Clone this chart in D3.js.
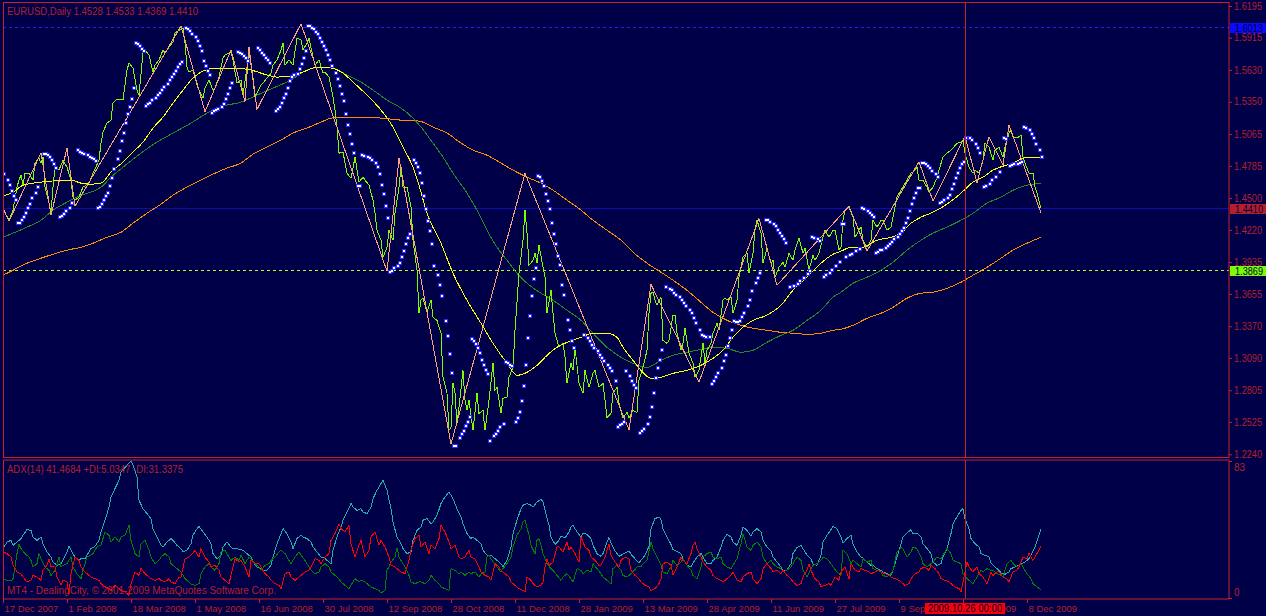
<!DOCTYPE html>
<html><head><meta charset="utf-8">
<script src="https://cdn.jsdelivr.net/npm/d3@7"></script>
<style>
html,body{margin:0;padding:0;background:#000048;}
svg{display:block;}
text{font-family:"Liberation Sans",Arial,sans-serif;}
</style></head><body>
<svg id="c" width="1266" height="616"></svg>
<script>
// ---------- DATA (bar index = trading day since 17 Dec 2007) ----------
const symbolTitle = "EURUSD,Daily  1.4528 1.4533 1.4369 1.4410";
const adxTitle = "ADX(14) 41.4684 +DI:5.0347 -DI:31.3375";
const copyright = "MT4 - DealingCity, \u00A9 2001-2009 MetaQuotes Software Corp.";
const priceTicks = [1.6195,1.5915,1.5630,1.5350,1.5065,1.4785,1.4500,1.4220,1.3935,1.3655,1.3370,1.3090,1.2805,1.2525,1.2240];
const adxTicks = [83,0];
const timeTicks = [[0,"17 Dec 2007"],[32,"1 Feb 2008"],[64,"18 Mar 2008"],[96,"1 May 2008"],[128,"16 Jun 2008"],[160,"30 Jul 2008"],[192,"12 Sep 2008"],[224,"28 Oct 2008"],[256,"11 Dec 2008"],[288,"28 Jan 2009"],[320,"13 Mar 2009"],[352,"28 Apr 2009"],[384,"11 Jun 2009"],[416,"27 Jul 2009"],[448,"9 Sep 2009"],[480,"22 Oct 2009"],[512,"8 Dec 2009"]];
const crossBar = 481, crossLabel = "2009.10.26 00:00";
const levelLines = [[1.6013,"dash","#1e1eff","#0a0aff"],[1.4410,"solid","#0c0cb4","#b4202a"],[1.3869,"dash","#b4ff28","#7cfc00"]];

const closeSeries = [[0,1.4403],[3,1.4305],[5,1.4394],[7,1.4597],[8,1.4659],[9,1.4703],[10,1.4614],[11,1.4720],[13,1.4720],[15,1.4659],[16,1.4809],[18,1.4853],[19,1.4809],[20,1.4862],[21,1.4597],[23,1.4456],[24,1.4367],[25,1.4597],[26,1.4765],[28,1.4747],[29,1.4791],[30,1.4835],[32,1.4773],[34,1.4659],[35,1.4509],[36,1.4482],[38,1.4509],[40,1.4597],[43,1.4632],[45,1.4720],[48,1.4835],[49,1.4985],[50,1.5082],[52,1.5162],[54,1.5188],[55,1.5339],[57,1.5374],[60,1.5365],[62,1.5630],[63,1.5692],[65,1.5648],[67,1.5453],[68,1.5409],[70,1.5780],[71,1.5807],[73,1.5762],[75,1.5612],[76,1.5674],[78,1.5718],[80,1.5807],[81,1.5780],[83,1.5833],[85,1.5877],[86,1.5957],[89,1.5992],[90,1.6001],[91,1.5868],[92,1.5656],[93,1.5612],[95,1.5630],[97,1.5497],[98,1.5453],[100,1.5383],[101,1.5471],[103,1.5542],[105,1.5453],[106,1.5471],[108,1.5568],[110,1.5736],[111,1.5762],[114,1.5789],[115,1.5718],[117,1.5515],[119,1.5542],[120,1.5409],[122,1.5656],[123,1.5807],[125,1.5542],[126,1.5392],[127,1.5427],[129,1.5497],[130,1.5515],[132,1.5559],[134,1.5603],[135,1.5674],[137,1.5718],[139,1.5807],[140,1.5868],[141,1.5674],[143,1.5718],[145,1.5674],[147,1.5912],[149,1.5895],[150,1.5807],[152,1.5868],[153,1.5912],[155,1.5745],[156,1.5674],[158,1.5718],[160,1.5603],[161,1.5612],[163,1.5568],[165,1.5392],[166,1.5277],[167,1.5127],[168,1.4897],[170,1.4906],[172,1.4720],[174,1.4676],[175,1.4765],[176,1.4862],[178,1.4641],[180,1.4685],[181,1.4659],[183,1.4614],[185,1.4482],[186,1.4367],[187,1.4217],[189,1.4129],[190,1.3979],[192,1.4067],[193,1.4217],[195,1.4129],[196,1.4367],[198,1.4597],[199,1.4773],[200,1.4597],[202,1.4597],[204,1.4420],[205,1.4129],[207,1.3864],[208,1.3484],[209,1.3599],[210,1.3617],[212,1.3493],[214,1.3599],[215,1.3449],[217,1.3422],[219,1.3308],[220,1.2919],[222,1.2778],[223,1.2451],[224,1.2478],[225,1.2866],[226,1.2778],[227,1.2513],[228,1.2654],[230,1.2981],[231,1.2716],[232,1.2628],[233,1.2716],[235,1.2451],[237,1.2778],[238,1.2601],[240,1.2628],[241,1.2451],[243,1.2716],[245,1.3043],[246,1.2804],[247,1.2831],[249,1.2601],[250,1.2734],[252,1.2743],[253,1.2919],[255,1.3007],[256,1.3334],[258,1.3837],[260,1.4129],[261,1.4394],[262,1.4191],[263,1.3908],[265,1.3952],[266,1.4014],[267,1.3926],[268,1.4085],[270,1.3890],[271,1.3802],[272,1.3484],[274,1.3687],[275,1.3484],[276,1.3308],[278,1.3184],[280,1.3219],[281,1.3096],[282,1.2866],[284,1.3043],[285,1.2981],[286,1.3184],[288,1.2866],[290,1.2778],[291,1.2981],[293,1.2831],[295,1.2954],[296,1.2981],[298,1.2831],[300,1.2866],[301,1.2716],[302,1.2566],[304,1.2601],[305,1.2778],[307,1.2831],[308,1.2690],[310,1.2557],[312,1.2610],[313,1.2557],[315,1.2628],[317,1.2610],[318,1.2893],[320,1.3007],[322,1.3158],[323,1.3484],[324,1.3661],[325,1.3670],[326,1.3599],[327,1.3555],[329,1.3626],[330,1.3246],[332,1.3219],[333,1.3246],[335,1.3467],[336,1.3467],[337,1.3308],[339,1.3158],[340,1.3219],[341,1.3352],[343,1.3131],[345,1.3043],[346,1.2919],[348,1.2981],[350,1.3219],[351,1.3043],[352,1.3158],[354,1.3219],[355,1.3308],[357,1.3396],[358,1.3334],[360,1.3599],[361,1.3617],[362,1.3599],[364,1.3626],[365,1.3484],[367,1.3599],[368,1.3802],[370,1.3979],[372,1.4014],[373,1.3837],[375,1.4014],[376,1.4217],[377,1.4305],[379,1.4191],[380,1.3926],[382,1.4058],[384,1.3926],[385,1.3952],[386,1.3802],[388,1.3890],[390,1.3935],[391,1.3890],[393,1.4014],[395,1.3952],[396,1.4041],[398,1.4147],[400,1.4014],[401,1.4058],[403,1.3864],[405,1.3996],[406,1.3952],[408,1.4014],[410,1.4155],[411,1.4217],[413,1.4155],[415,1.4217],[416,1.4217],[418,1.4041],[419,1.4067],[420,1.4305],[421,1.4394],[423,1.4420],[425,1.4332],[426,1.4155],[428,1.4217],[429,1.4244],[430,1.4129],[432,1.4067],[434,1.4129],[435,1.4305],[437,1.4244],[439,1.4305],[440,1.4305],[442,1.4217],[444,1.4244],[445,1.4332],[447,1.4509],[449,1.4570],[450,1.4597],[452,1.4659],[454,1.4720],[455,1.4729],[457,1.4773],[458,1.4659],[460,1.4659],[462,1.4597],[463,1.4553],[465,1.4597],[467,1.4685],[468,1.4747],[470,1.4862],[472,1.4897],[474,1.4924],[475,1.4941],[477,1.4985],[479,1.4994],[480,1.5012],[481,1.4897],[483,1.4773],[485,1.4720],[486,1.4747],[488,1.4720],[490,1.4835],[491,1.4985],[493,1.4950],[495,1.4835],[496,1.4924],[498,1.4950],[500,1.4862],[501,1.4950],[503,1.5074],[504,1.5100],[505,1.5038],[507,1.5030],[509,1.5056],[510,1.4862],[511,1.4809],[513,1.4720],[515,1.4720],[516,1.4597],[517,1.4544],[519,1.4410]];

const maYellow = [[0,1.4517],[5,1.4553],[10,1.4614],[15,1.4632],[24,1.4650],[34,1.4659],[39,1.4632],[44,1.4623],[49,1.4632],[54,1.4729],[60,1.4818],[65,1.4906],[70,1.4994],[75,1.5118],[80,1.5215],[85,1.5339],[90,1.5453],[95,1.5559],[100,1.5621],[107,1.5648],[115,1.5648],[124,1.5630],[132,1.5586],[137,1.5568],[144,1.5577],[150,1.5612],[157,1.5656],[164,1.5648],[170,1.5603],[175,1.5524],[182,1.5409],[189,1.5277],[195,1.5127],[200,1.4950],[205,1.4773],[208,1.4614],[212,1.4367],[219,1.4102],[225,1.3837],[232,1.3599],[239,1.3396],[245,1.3219],[252,1.3043],[257,1.2937],[262,1.2963],[267,1.3025],[272,1.3113],[277,1.3184],[282,1.3228],[289,1.3272],[295,1.3308],[302,1.3308],[307,1.3272],[310,1.3184],[315,1.3069],[319,1.2981],[324,1.2910],[329,1.2919],[335,1.2954],[342,1.2981],[349,1.3025],[355,1.3087],[360,1.3158],[365,1.3272],[370,1.3361],[375,1.3422],[382,1.3467],[389,1.3555],[395,1.3687],[402,1.3802],[409,1.3926],[415,1.4005],[419,1.4032],[424,1.4067],[430,1.4067],[437,1.4129],[444,1.4155],[449,1.4191],[454,1.4279],[459,1.4332],[465,1.4376],[472,1.4447],[479,1.4544],[485,1.4641],[490,1.4685],[495,1.4747],[500,1.4782],[505,1.4809],[510,1.4853],[515,1.4862],[519,1.4862]];

const maGreen = [[0,1.4155],[5,1.4191],[12,1.4244],[19,1.4305],[25,1.4394],[32,1.4464],[39,1.4526],[44,1.4553],[49,1.4597],[54,1.4685],[60,1.4773],[69,1.4897],[77,1.4994],[85,1.5074],[94,1.5162],[102,1.5250],[110,1.5312],[119,1.5347],[127,1.5409],[135,1.5471],[144,1.5542],[152,1.5630],[159,1.5656],[165,1.5648],[172,1.5586],[179,1.5524],[185,1.5453],[192,1.5365],[199,1.5294],[205,1.5206],[209,1.5127],[215,1.4985],[220,1.4862],[225,1.4720],[232,1.4544],[237,1.4394],[242,1.4217],[247,1.4067],[252,1.3952],[257,1.3837],[262,1.3749],[269,1.3661],[275,1.3599],[282,1.3511],[289,1.3422],[295,1.3308],[302,1.3184],[309,1.3096],[315,1.3043],[322,1.3007],[329,1.3069],[335,1.3113],[342,1.3140],[349,1.3166],[355,1.3184],[362,1.3175],[369,1.3140],[375,1.3158],[382,1.3228],[389,1.3290],[395,1.3334],[402,1.3422],[409,1.3511],[415,1.3626],[419,1.3670],[425,1.3749],[432,1.3802],[439,1.3864],[445,1.3935],[452,1.4041],[459,1.4129],[465,1.4191],[472,1.4244],[479,1.4305],[485,1.4367],[492,1.4456],[499,1.4509],[505,1.4570],[512,1.4614],[519,1.4632]];

const maOrange = [[0,1.3820],[5,1.3864],[12,1.3926],[19,1.3970],[25,1.4005],[32,1.4041],[39,1.4067],[45,1.4102],[52,1.4155],[59,1.4199],[65,1.4279],[72,1.4367],[79,1.4447],[85,1.4526],[92,1.4597],[99,1.4659],[105,1.4712],[112,1.4765],[119,1.4809],[125,1.4888],[132,1.4950],[139,1.5012],[145,1.5074],[152,1.5118],[159,1.5171],[164,1.5206],[169,1.5215],[179,1.5215],[189,1.5206],[199,1.5188],[208,1.5180],[215,1.5127],[222,1.5074],[229,1.4985],[235,1.4924],[242,1.4879],[249,1.4809],[255,1.4747],[262,1.4685],[269,1.4632],[275,1.4570],[282,1.4482],[289,1.4394],[295,1.4305],[302,1.4217],[309,1.4129],[315,1.4023],[322,1.3926],[329,1.3846],[335,1.3776],[342,1.3687],[349,1.3581],[355,1.3493],[362,1.3422],[369,1.3378],[375,1.3352],[382,1.3334],[389,1.3316],[395,1.3308],[402,1.3299],[409,1.3308],[415,1.3334],[419,1.3343],[425,1.3378],[432,1.3440],[439,1.3484],[445,1.3537],[452,1.3617],[459,1.3661],[465,1.3670],[472,1.3705],[479,1.3758],[485,1.3820],[492,1.3890],[499,1.3970],[505,1.4041],[512,1.4102],[519,1.4155]];

const zigzag = [[0,1.4411],[3,1.4297],[19,1.4900],[24,1.4350],[32,1.4941],[36,1.4429],[89,1.6019],[101,1.5262],[114,1.5807],[121,1.5350],[123,1.5830],[127,1.5283],[149,1.6038],[192,1.3855],[198,1.4850],[224,1.2330],[261,1.4719],[313,1.2456],[324,1.3738],[348,1.2878],[378,1.4320],[387,1.3731],[423,1.4429],[432,1.4035],[458,1.4821],[465,1.4473],[481,1.5047],[487,1.4635],[493,1.5041],[500,1.4791],[503,1.5144],[519,1.4369]];

const psar = [[0,1.4718],[2,1.4668],[3,1.4624],[4,1.4576],[5,1.4532],[6,1.4488],[7,1.4291],[8,1.4291],[9,1.4312],[10,1.4341],[11,1.4379],[12,1.4418],[13,1.4459],[14,1.4506],[16,1.4556],[17,1.4606],[20,1.4900],[21,1.4894],[22,1.4885],[23,1.4871],[24,1.4847],[25,1.4812],[26,1.4777],[28,1.4341],[29,1.4350],[30,1.4370],[31,1.4394],[33,1.4423],[34,1.4468],[37,1.4932],[38,1.4918],[39,1.4906],[40,1.4894],[42,1.4885],[43,1.4874],[44,1.4865],[45,1.4850],[46,1.4835],[47,1.4423],[48,1.4429],[49,1.4453],[50,1.4488],[51,1.4526],[52,1.4556],[53,1.4615],[54,1.4688],[55,1.4762],[57,1.4850],[58,1.4924],[59,1.5012],[60,1.5086],[61,1.5174],[62,1.5247],[63,1.5312],[64,1.5380],[65,1.5477],[66,1.5880],[67,1.5871],[68,1.5851],[69,1.5827],[70,1.5807],[71,1.5321],[72,1.5336],[73,1.5350],[74,1.5371],[76,1.5395],[77,1.5415],[78,1.5439],[79,1.5459],[80,1.5489],[82,1.5518],[83,1.5548],[84,1.5577],[85,1.5601],[86,1.5630],[87,1.5665],[88,1.5689],[89,1.5712],[91,1.6007],[92,1.5998],[93,1.5983],[94,1.5960],[96,1.5930],[97,1.5895],[98,1.5851],[99,1.5807],[100,1.5718],[101,1.5674],[102,1.5630],[103,1.5595],[104,1.5262],[105,1.5277],[106,1.5283],[107,1.5292],[109,1.5312],[110,1.5342],[111,1.5380],[112,1.5424],[113,1.5477],[114,1.5527],[117,1.5801],[118,1.5792],[119,1.5777],[120,1.5762],[121,1.5742],[122,1.5718],[127,1.5830],[128,1.5812],[129,1.5792],[130,1.5771],[131,1.5748],[132,1.5724],[133,1.5704],[136,1.5277],[137,1.5292],[138,1.5312],[139,1.5350],[140,1.5389],[141,1.5424],[142,1.5477],[143,1.5542],[144,1.5577],[145,1.5595],[147,1.5606],[148,1.5645],[149,1.5695],[150,1.5748],[151,1.5807],[152,1.6027],[153,1.6024],[154,1.6013],[155,1.5998],[156,1.5977],[157,1.5954],[158,1.5924],[159,1.5889],[160,1.5851],[161,1.5812],[162,1.5771],[163,1.5724],[164,1.5674],[166,1.5615],[167,1.5556],[168,1.5498],[169,1.5430],[170,1.5365],[171,1.5247],[172,1.5153],[173,1.5071],[174,1.4983],[175,1.4909],[177,1.4615],[178,1.4615],[179,1.4888],[180,1.4880],[182,1.4871],[183,1.4859],[184,1.4841],[186,1.4821],[187,1.4782],[188,1.4718],[189,1.4629],[190,1.4541],[191,1.4438],[192,1.4335],[193,1.3858],[194,1.3870],[195,1.3888],[197,1.3908],[198,1.3938],[199,1.3988],[200,1.4041],[201,1.4100],[202,1.4153],[203,1.4188],[205,1.4841],[206,1.4821],[207,1.4782],[208,1.4732],[209,1.4644],[210,1.4526],[211,1.4409],[212,1.4306],[213,1.4217],[214,1.4100],[215,1.3908],[217,1.3829],[218,1.3746],[219,1.3643],[221,1.3423],[222,1.3290],[223,1.3134],[224,1.2967],[225,1.2319],[226,1.2319],[228,1.2393],[229,1.2428],[230,1.2457],[231,1.2496],[232,1.2534],[233,1.2575],[234,1.3270],[235,1.3252],[236,1.3223],[237,1.3187],[238,1.3143],[239,1.3084],[240,1.3040],[241,1.2996],[242,1.2958],[243,1.2369],[245,1.2407],[246,1.2428],[247,1.2457],[248,1.2487],[250,1.2516],[251,1.3064],[252,1.3052],[253,1.3040],[254,1.3025],[256,1.2534],[257,1.2569],[258,1.2622],[259,1.2716],[260,1.2849],[261,1.3040],[262,1.3276],[263,1.3467],[264,1.3643],[265,1.3799],[266,1.3894],[267,1.4703],[268,1.4694],[269,1.4659],[270,1.4615],[271,1.4541],[272,1.4482],[273,1.4409],[274,1.4291],[275,1.4188],[276,1.4100],[277,1.3997],[278,1.3923],[279,1.3746],[280,1.3658],[282,1.3437],[283,1.3349],[284,1.3246],[285,1.3187],[290,1.3305],[292,1.3276],[293,1.3246],[294,1.3217],[295,1.3187],[297,1.3158],[298,1.3123],[299,1.3099],[300,1.3070],[302,1.3040],[303,1.3011],[304,1.2981],[306,1.2893],[307,1.2487],[308,1.2504],[309,1.2516],[310,1.2534],[311,1.2981],[313,1.2937],[314,1.2899],[315,1.2864],[316,1.2834],[318,1.2437],[319,1.2452],[320,1.2475],[322,1.2516],[323,1.2575],[324,1.2663],[325,1.2790],[326,1.2922],[327,1.3011],[328,1.3084],[329,1.3173],[331,1.3723],[333,1.3711],[334,1.3694],[335,1.3673],[336,1.3652],[338,1.3635],[339,1.3614],[340,1.3585],[341,1.3555],[343,1.3526],[344,1.3496],[345,1.3452],[346,1.3408],[348,1.3349],[349,1.3305],[350,1.3290],[351,1.3281],[353,1.3281],[354,1.2869],[355,1.2893],[356,1.2928],[357,1.2966],[359,1.3011],[360,1.3070],[361,1.3128],[362,1.3202],[363,1.3276],[364,1.3349],[365,1.3423],[366,1.3417],[367,1.3417],[368,1.3423],[369,1.3458],[370,1.3496],[372,1.3555],[373,1.3614],[374,1.3688],[376,1.3761],[377,1.3805],[378,1.3849],[381,1.4320],[382,1.4312],[383,1.4300],[385,1.4282],[386,1.4261],[387,1.4232],[388,1.4203],[389,1.4173],[390,1.4144],[391,1.4114],[393,1.3723],[395,1.3732],[397,1.3752],[398,1.3776],[400,1.3805],[402,1.3841],[403,1.3870],[404,1.4164],[405,1.4158],[407,1.4144],[408,1.4135],[410,1.3811],[411,1.3829],[413,1.3850],[414,1.3879],[416,1.3908],[418,1.3944],[419,1.4282],[420,1.4282],[421,1.3988],[423,1.4005],[424,1.4020],[426,1.4041],[428,1.4064],[429,1.4418],[430,1.4409],[432,1.4394],[433,1.4379],[434,1.4364],[435,1.4341],[436,1.4026],[437,1.4035],[438,1.4047],[439,1.4055],[441,1.4070],[442,1.4085],[443,1.4106],[444,1.4123],[445,1.4144],[447,1.4164],[448,1.4188],[449,1.4217],[450,1.4247],[451,1.4291],[452,1.4335],[453,1.4394],[454,1.4453],[455,1.4512],[456,1.4556],[457,1.4594],[458,1.4600],[459,1.4821],[460,1.4815],[461,1.4806],[462,1.4791],[463,1.4777],[464,1.4747],[466,1.4718],[467,1.4694],[468,1.4468],[469,1.4476],[470,1.4488],[472,1.4506],[473,1.4535],[474,1.4585],[475,1.4635],[476,1.4682],[477,1.4732],[478,1.4777],[479,1.4812],[480,1.4830],[481,1.5041],[483,1.5041],[484,1.5018],[486,1.4988],[487,1.4953],[488,1.4909],[490,1.4606],[491,1.4615],[493,1.4635],[494,1.4665],[496,1.4694],[498,1.4741],[500,1.5041],[501,1.5027],[503,1.4791],[504,1.4797],[505,1.4806],[507,1.4812],[508,1.4821],[509,1.4830],[510,1.5136],[511,1.5124],[513,1.5106],[514,1.5077],[515,1.5035],[516,1.4988],[518,1.4930],[519,1.4871]];

const adx = [[0,29.9],[2,33.9],[4,34.9],[5,31.9],[7,33.9],[9,36.0],[10,38.0],[12,41.4],[14,41.0],[15,37.0],[17,34.9],[19,37.0],[20,32.9],[22,27.9],[24,24.8],[25,21.8],[27,19.8],[29,20.8],[30,22.8],[32,27.9],[33,31.3],[34,28.9],[36,24.8],[38,22.8],[39,23.8],[41,23.8],[43,27.9],[44,29.9],[46,31.3],[48,34.9],[49,40.0],[51,47.1],[53,55.1],[54,61.2],[56,66.3],[58,71.3],[59,76.4],[62,80.4],[64,83.0],[65,80.4],[67,73.3],[68,59.2],[70,54.1],[72,51.1],[74,48.1],[75,42.0],[77,37.0],[79,31.9],[80,30.9],[82,33.9],[84,36.0],[85,34.9],[87,31.9],[89,29.9],[90,27.9],[92,28.9],[94,32.9],[95,38.0],[97,42.0],[98,43.4],[100,40.0],[102,37.0],[104,32.9],[105,26.9],[107,23.8],[109,25.9],[110,30.9],[112,33.9],[114,30.9],[115,29.9],[117,29.9],[119,29.3],[120,28.9],[122,26.9],[124,24.8],[125,21.8],[127,18.8],[129,17.8],[130,16.2],[132,16.8],[134,19.8],[135,24.8],[137,32.9],[139,39.0],[140,42.0],[142,39.0],[144,33.9],[145,29.9],[147,36.0],[149,38.0],[150,37.0],[152,36.0],[154,33.9],[155,30.9],[157,27.9],[159,24.8],[160,24.8],[162,22.8],[164,20.8],[165,28.9],[167,37.0],[169,43.0],[170,47.1],[172,52.1],[174,57.2],[175,55.1],[177,53.1],[179,54.1],[180,52.1],[182,51.1],[184,55.1],[185,60.2],[187,65.2],[189,69.3],[190,71.3],[192,65.2],[194,54.1],[195,46.1],[197,37.0],[199,32.9],[200,29.9],[202,26.9],[204,27.9],[205,34.9],[207,41.0],[209,43.0],[210,47.1],[212,48.1],[214,45.0],[215,46.1],[217,50.1],[219,57.2],[221,61.2],[223,64.2],[225,60.2],[227,54.1],[229,49.1],[230,45.0],[232,39.0],[234,36.0],[235,37.0],[237,34.9],[239,32.9],[240,28.9],[242,25.9],[244,25.9],[245,24.8],[247,22.8],[249,20.8],[250,18.8],[252,22.8],[254,30.9],[255,39.0],[257,47.1],[259,54.1],[260,56.2],[262,57.2],[264,56.2],[265,55.1],[267,58.2],[269,59.8],[270,58.2],[271,53.1],[273,44.0],[274,37.0],[276,32.5],[278,34.9],[279,37.4],[281,36.4],[283,40.0],[284,43.0],[285,44.0],[287,40.0],[289,37.0],[290,39.4],[292,38.6],[294,36.0],[295,31.9],[297,26.9],[299,25.3],[300,26.9],[302,33.9],[303,36.6],[304,33.3],[306,28.5],[308,25.3],[309,25.9],[311,27.3],[313,28.5],[314,26.5],[316,23.8],[318,21.2],[319,22.8],[321,25.9],[323,31.3],[324,42.0],[326,48.1],[328,49.1],[329,47.5],[330,42.0],[332,37.0],[334,32.5],[335,29.3],[337,28.3],[339,26.9],[340,23.8],[342,19.8],[344,18.8],[345,21.2],[347,24.8],[349,26.9],[350,24.8],[352,20.8],[354,20.8],[355,22.8],[357,24.8],[359,30.9],[360,34.9],[362,38.6],[364,37.0],[365,33.9],[367,31.9],[369,38.0],[370,43.0],[372,41.0],[374,37.4],[375,40.0],[377,42.0],[379,40.0],[380,34.9],[382,30.9],[384,28.5],[385,24.8],[387,21.8],[389,18.8],[390,16.4],[392,16.8],[394,20.8],[395,26.9],[397,30.5],[399,31.9],[400,29.9],[402,25.9],[404,23.8],[405,20.4],[407,19.8],[409,25.9],[410,33.9],[412,38.0],[414,41.4],[415,43.4],[417,42.0],[419,37.0],[420,33.3],[422,36.0],[424,38.0],[425,32.5],[427,27.9],[429,24.8],[430,24.2],[432,21.8],[434,19.8],[435,19.8],[437,17.8],[439,16.8],[440,15.8],[442,14.7],[444,13.7],[445,16.8],[447,24.8],[449,32.9],[450,37.0],[452,39.4],[454,41.4],[455,39.0],[457,39.4],[459,37.0],[460,32.9],[462,29.9],[464,26.9],[465,21.8],[467,19.8],[469,20.8],[470,24.8],[472,29.9],[474,39.0],[475,45.0],[477,49.1],[479,53.1],[480,54.1],[481,48.1],[483,42.0],[484,36.0],[486,32.9],[488,30.9],[489,26.9],[491,25.9],[493,24.8],[494,21.2],[496,18.8],[498,16.8],[499,15.2],[501,14.3],[503,15.8],[504,17.8],[506,18.8],[508,19.8],[509,20.4],[511,21.8],[513,23.8],[514,25.9],[516,30.9],[519,41.5]];

const plusDI = [[0,11.7],[2,10.7],[4,10.3],[5,11.7],[6,18.8],[7,26.9],[8,32.5],[9,29.9],[11,26.9],[13,24.8],[14,22.8],[15,18.8],[17,20.8],[18,26.9],[19,23.8],[21,18.8],[23,16.8],[24,13.7],[26,16.8],[28,24.8],[29,18.8],[30,19.8],[32,20.8],[34,24.8],[35,18.8],[37,14.7],[39,11.7],[40,16.8],[42,24.8],[44,25.9],[45,26.9],[47,30.9],[49,31.9],[50,36.0],[51,40.0],[53,38.0],[54,33.9],[56,37.0],[58,33.9],[59,37.0],[61,38.0],[63,44.0],[64,34.9],[66,26.9],[68,24.8],[69,32.9],[71,34.9],[73,28.9],[74,24.8],[76,20.8],[78,22.8],[79,24.8],[81,26.9],[83,24.8],[84,20.8],[86,18.8],[88,16.8],[89,15.8],[91,11.7],[93,9.7],[94,8.3],[96,7.7],[98,8.7],[99,14.7],[101,18.8],[103,20.8],[104,18.8],[106,16.8],[108,20.8],[109,27.9],[111,28.9],[113,24.8],[114,22.8],[116,24.8],[118,22.8],[119,25.9],[121,20.8],[123,24.8],[124,23.8],[126,20.8],[128,18.8],[129,16.8],[131,19.8],[133,20.8],[134,22.8],[136,24.8],[138,27.9],[139,28.9],[141,26.9],[143,22.8],[144,20.8],[146,24.8],[148,27.9],[149,25.9],[151,22.8],[153,18.8],[154,16.8],[156,14.7],[158,15.8],[159,18.8],[161,20.8],[163,18.8],[164,15.8],[166,13.7],[168,11.7],[169,9.7],[171,7.7],[173,5.7],[174,7.7],[176,11.7],[178,9.7],[179,10.7],[181,9.7],[183,7.7],[184,6.7],[186,5.7],[188,4.6],[189,3.0],[191,4.6],[192,16.8],[193,18.8],[194,21.8],[196,24.8],[197,30.5],[198,24.8],[199,22.8],[201,18.8],[203,13.7],[204,9.7],[206,8.7],[208,9.7],[209,9.7],[211,8.7],[213,10.7],[214,13.7],[216,10.7],[218,8.7],[219,6.7],[221,5.7],[223,4.6],[224,17.8],[226,16.8],[228,14.7],[229,15.8],[231,13.7],[233,15.8],[234,14.7],[236,15.8],[238,12.7],[239,14.7],[241,15.8],[242,24.8],[243,25.9],[245,21.8],[247,18.8],[249,15.8],[250,17.8],[252,20.8],[254,24.8],[255,30.9],[257,38.0],[259,42.0],[260,46.1],[261,47.1],[263,38.0],[264,31.9],[266,26.9],[267,34.9],[268,36.0],[269,31.9],[270,26.9],[272,20.8],[274,17.8],[275,16.8],[277,13.7],[279,10.7],[280,12.7],[282,14.7],[284,11.7],[285,9.7],[287,17.8],[289,16.8],[290,14.7],[292,16.8],[294,15.8],[295,20.8],[297,17.8],[299,14.7],[300,12.7],[302,10.7],[304,8.7],[305,17.8],[307,19.8],[309,16.8],[310,13.7],[312,12.7],[314,14.7],[315,15.8],[317,18.8],[319,18.8],[320,20.8],[322,22.8],[324,33.9],[325,29.9],[327,24.8],[329,19.8],[330,15.8],[332,14.7],[334,18.8],[335,22.8],[337,19.8],[339,21.8],[340,23.8],[342,19.8],[344,16.8],[345,13.7],[347,11.7],[349,18.8],[350,24.8],[352,26.9],[354,27.9],[355,24.8],[357,23.8],[359,24.8],[360,20.8],[362,18.8],[364,17.8],[365,19.8],[367,23.8],[369,32.9],[370,39.0],[372,30.9],[374,28.9],[375,31.9],[377,33.9],[379,30.9],[380,24.8],[382,20.8],[384,22.8],[385,20.8],[387,18.8],[389,17.8],[390,15.8],[392,16.8],[394,18.8],[395,20.8],[397,24.8],[399,22.8],[400,16.8],[402,12.7],[404,17.8],[405,19.8],[407,20.8],[409,22.8],[410,24.8],[412,23.8],[414,20.8],[415,18.8],[417,15.8],[419,13.7],[420,28.9],[422,26.9],[424,20.8],[425,22.8],[427,20.8],[429,18.8],[430,23.8],[432,21.8],[434,22.8],[435,17.8],[437,16.8],[439,15.8],[440,13.7],[442,12.7],[444,14.7],[445,16.8],[447,27.9],[449,30.5],[450,29.9],[452,24.8],[454,27.9],[455,30.9],[457,29.9],[459,24.8],[460,20.8],[462,18.8],[464,20.8],[465,21.8],[467,24.8],[469,23.8],[470,25.9],[472,29.9],[474,26.9],[475,22.8],[477,21.8],[479,20.8],[480,14.7],[482,11.7],[484,9.7],[485,8.7],[487,12.7],[489,16.8],[490,15.8],[492,17.8],[494,16.8],[495,16.8],[497,14.7],[499,13.7],[500,12.7],[502,20.8],[504,22.8],[505,20.8],[507,18.8],[509,20.8],[510,18.8],[512,14.7],[514,11.7],[515,8.7],[517,6.7],[519,5.0]];

const minusDI = [[0,27.9],[2,26.9],[4,24.8],[5,19.8],[7,15.8],[9,14.7],[10,12.7],[12,9.7],[14,10.7],[15,13.7],[17,12.7],[19,10.7],[20,16.8],[22,19.8],[23,23.8],[24,18.8],[26,18.8],[27,12.7],[29,7.7],[30,10.7],[32,9.7],[33,2.6],[34,14.7],[36,24.8],[38,22.8],[39,18.8],[41,15.8],[43,13.7],[44,12.7],[46,11.7],[48,10.7],[49,8.7],[51,6.7],[53,5.7],[54,4.6],[56,7.7],[58,5.7],[59,4.6],[61,3.6],[63,1.6],[64,8.7],[66,15.8],[68,13.7],[69,17.8],[71,14.7],[73,12.7],[74,11.7],[76,10.7],[78,11.7],[79,10.7],[81,9.7],[83,11.7],[84,9.7],[86,8.7],[88,12.7],[89,12.7],[91,23.8],[93,24.8],[94,25.9],[96,28.9],[98,24.8],[99,29.9],[101,24.8],[103,21.8],[104,18.8],[106,19.8],[108,16.8],[109,12.7],[111,10.7],[113,8.7],[114,13.7],[116,23.8],[118,21.8],[119,22.8],[121,18.8],[123,12.7],[124,22.8],[126,20.8],[128,20.8],[129,18.8],[131,14.7],[133,12.7],[134,10.7],[136,8.7],[138,7.7],[139,5.7],[141,14.7],[143,15.8],[144,12.7],[146,10.7],[148,12.7],[149,13.7],[151,15.8],[153,16.8],[154,18.8],[156,23.8],[158,22.8],[159,20.8],[161,24.8],[163,26.9],[164,34.9],[166,39.0],[168,45.0],[169,42.0],[171,40.0],[173,44.0],[174,32.9],[176,24.8],[178,31.9],[179,34.9],[181,24.8],[183,28.9],[184,37.0],[186,40.0],[188,31.9],[189,34.9],[191,30.9],[193,24.8],[194,19.8],[196,18.8],[198,16.8],[199,15.8],[201,14.7],[203,22.8],[204,28.9],[206,36.0],[208,38.0],[209,30.9],[211,33.9],[213,26.9],[214,31.9],[216,29.9],[218,36.0],[219,44.0],[221,40.0],[223,33.9],[224,29.9],[226,31.9],[228,24.8],[229,23.8],[231,24.8],[233,28.9],[234,24.8],[236,23.8],[238,18.8],[239,15.8],[241,13.7],[243,12.7],[244,10.7],[246,20.8],[248,18.8],[249,16.8],[251,14.7],[253,12.7],[254,9.7],[256,7.7],[258,5.7],[260,4.6],[261,3.6],[262,12.7],[264,10.7],[265,8.7],[267,6.7],[269,7.7],[270,9.7],[271,18.8],[272,23.8],[273,19.8],[275,21.8],[277,30.9],[278,30.9],[280,27.9],[282,33.9],[283,28.9],[284,30.9],[286,26.9],[288,21.8],[289,37.0],[291,30.9],[293,28.9],[294,24.8],[296,22.8],[298,19.8],[299,19.8],[301,24.8],[303,32.9],[304,25.9],[306,21.8],[308,18.8],[309,22.8],[311,24.8],[313,23.8],[314,16.8],[316,13.7],[318,11.7],[319,9.7],[321,7.7],[323,6.7],[324,4.6],[326,5.7],[328,8.7],[329,11.7],[330,20.8],[332,21.8],[334,19.8],[335,13.7],[337,18.8],[339,24.8],[340,22.8],[342,20.8],[344,26.9],[345,31.9],[346,33.9],[347,29.9],[349,24.8],[350,21.8],[352,18.8],[354,16.8],[355,13.7],[357,11.7],[359,10.7],[360,9.7],[362,11.7],[364,13.7],[365,15.8],[367,10.7],[369,9.7],[370,12.7],[372,14.7],[374,15.8],[375,11.7],[377,8.7],[379,11.7],[380,17.8],[382,20.8],[384,17.8],[385,15.8],[387,16.8],[389,14.7],[390,16.8],[392,13.7],[394,11.7],[395,9.7],[397,7.7],[399,8.7],[400,12.7],[402,16.8],[403,20.8],[404,16.8],[406,11.7],[408,9.7],[409,6.7],[411,7.7],[413,8.7],[414,7.7],[416,12.7],[418,10.7],[419,15.8],[421,18.8],[423,11.7],[424,20.8],[426,16.8],[428,15.8],[429,17.8],[431,16.8],[433,15.8],[434,14.7],[436,15.8],[438,16.8],[439,15.8],[441,14.7],[443,13.7],[444,12.7],[446,11.7],[448,10.7],[449,9.7],[451,7.7],[453,8.7],[454,11.7],[456,14.7],[458,15.8],[459,17.8],[461,18.8],[463,16.8],[464,19.8],[466,17.8],[468,14.7],[469,11.7],[471,10.7],[473,9.7],[474,8.7],[476,6.7],[478,5.7],[479,3.6],[480,9.7],[482,21.8],[483,18.8],[485,15.8],[487,18.8],[488,14.7],[490,12.7],[492,8.7],[494,15.8],[495,13.7],[497,15.8],[498,15.8],[500,12.7],[502,11.7],[503,9.7],[505,15.8],[507,16.8],[508,18.8],[510,24.8],[512,23.8],[513,26.9],[515,22.8],[517,26.9],[519,31.3]];

// ---------- STYLE ----------
const BG = "#000048", FRAME = "#c8202a", TXT = "#b4202c";
const W = 1266, H = 616;
const L = 3, R = 1229, MT = 2.5, MB = 457.5, IT = 460, IB = 599;

const svg = d3.select("#c");
svg.append("rect").attr("width", W).attr("height", H).attr("fill", BG);

const x = d3.scaleLinear().domain([0, 100]).range([3, 203]);
const y = d3.scaleLinear().domain([1.2240, 1.6195]).range([454.3, 6]);
const yi = d3.scaleLinear().domain([0, 83]).range([598, 461]);

const defs = svg.append("defs");
defs.append("clipPath").attr("id", "cm").append("rect").attr("x", L).attr("y", MT).attr("width", R - L).attr("height", MB - MT);
defs.append("clipPath").attr("id", "ci").append("rect").attr("x", L).attr("y", IT).attr("width", R - L).attr("height", IB - IT);

const main = svg.append("g").attr("clip-path", "url(#cm)");
const ind = svg.append("g").attr("clip-path", "url(#ci)");

// level lines
levelLines.forEach(([v, style, col]) => {
  const yy = Math.round(y(v)) + 0.5;
  main.append("line").attr("x1", L).attr("x2", R).attr("y1", yy).attr("y2", yy)
    .attr("stroke", col).attr("stroke-width", 1).attr("shape-rendering", "crispEdges")
    .attr("stroke-dasharray", style === "dash" ? "3,3" : null);
});

const lineP = (ys) => d3.line().x(d => x(d[0])).y(d => ys(d[1]));
function drawLine(g, data, ys, color, curve) {
  const gen = lineP(ys);
  if (curve) gen.curve(curve);
  g.append("path").datum(data).attr("d", gen).attr("fill", "none")
    .attr("stroke", color).attr("stroke-width", 1).attr("shape-rendering", "crispEdges");
}

drawLine(main, maOrange, y, "#ff8c00", d3.curveMonotoneX);
drawLine(main, maGreen, y, "#228b22", d3.curveMonotoneX);
drawLine(main, closeSeries, y, "#7cfc00");
drawLine(main, maYellow, y, "#ffff00", d3.curveMonotoneX);
drawLine(main, zigzag, y, "#ffa07a");

// parabolic SAR dots: white core with a blue rim
const dots = main.append("g").attr("shape-rendering", "crispEdges");
dots.selectAll("rect.o").data(psar).join("rect").attr("class", "o")
  .attr("x", d => x(d[0]) - 1).attr("y", d => Math.round(y(d[1])) - 1)
  .attr("width", 4).attr("height", 4).attr("fill", "#2a2aff");
dots.selectAll("rect.i").data(psar).join("rect").attr("class", "i")
  .attr("x", d => x(d[0])).attr("y", d => Math.round(y(d[1])))
  .attr("width", 2).attr("height", 2).attr("fill", "#ffffff");

// indicator lines
drawLine(ind, adx, yi, "#20b2aa");
drawLine(ind, plusDI, yi, "#008000");
drawLine(ind, minusDI, yi, "#ff0000");

// crosshair vertical
const cx = x(crossBar) + 0.5;
svg.append("line").attr("x1", cx).attr("x2", cx).attr("y1", MT).attr("y2", MB).attr("stroke", FRAME);
svg.append("line").attr("x1", cx).attr("x2", cx).attr("y1", IT).attr("y2", IB).attr("stroke", FRAME);

// frames
[[MT, MB], [IT, IB]].forEach(([t, b]) => {
  svg.append("rect").attr("x", L + 0.5).attr("y", t).attr("width", R - L - 0.5).attr("height", b - t)
    .attr("fill", "none").attr("stroke", FRAME).attr("stroke-width", 1);
});

// price axis
const pa = svg.append("g").attr("transform", `translate(${R},0)`)
  .call(d3.axisRight(y).tickValues(priceTicks).tickFormat(d3.format(".4f")).tickSize(3).tickPadding(2));
pa.select(".domain").remove();
pa.selectAll("line").attr("stroke", FRAME);
pa.selectAll("text").attr("fill", TXT).attr("font-size", 10).attr("font-family", "Liberation Sans, Arial, sans-serif")
  .attr("textLength", 28).attr("lengthAdjust", "spacingAndGlyphs");

// level labels on the price axis
levelLines.forEach(([v, style, col, box]) => {
  const yy = Math.round(y(v));
  svg.append("rect").attr("x", 1230).attr("y", yy - 4).attr("width", 36).attr("height", 10).attr("fill", box);
  svg.append("text").attr("x", 1235).attr("y", yy + 4.5).attr("fill", BG)
    .attr("font-size", 10).attr("textLength", 28).attr("lengthAdjust", "spacingAndGlyphs").text(d3.format(".4f")(v));
});

// indicator axis
const ia = svg.append("g").attr("transform", `translate(${R},0)`)
  .call(d3.axisRight(yi).tickValues(adxTicks).tickSize(3).tickPadding(2));
ia.select(".domain").remove();
ia.selectAll("line").attr("stroke", FRAME);
ia.selectAll("text").attr("fill", TXT).attr("font-size", 10).attr("font-family", "Liberation Sans, Arial, sans-serif")
  .attr("dy", d => d === 83 ? "0.95em" : "-0.3em");

// time axis
const ta = svg.append("g").attr("transform", `translate(0,${IB})`)
  .call(d3.axisBottom(x).tickValues(timeTicks.map(d => d[0])).tickSize(4)
    .tickFormat((d, i) => timeTicks[i][1]));
ta.select(".domain").remove();
ta.selectAll("line").attr("stroke", FRAME);
ta.selectAll("text").attr("fill", TXT).attr("font-size", 9.5).attr("font-family", "Liberation Sans, Arial, sans-serif")
  .attr("text-anchor", "start").attr("x", 1).attr("y", 6).attr("dy", "0.71em");

// crosshair time label (drawn over the axis labels, as in the terminal)
svg.append("rect").attr("x", 925).attr("y", 603).attr("width", 80).attr("height", 11).attr("fill", "#ff0000");
svg.append("text").attr("x", 928).attr("y", 612).attr("fill", BG).attr("font-size", 10)
  .attr("textLength", 74).attr("lengthAdjust", "spacingAndGlyphs").text(crossLabel);

// titles
function label(t, xx, yy, len) {
  svg.append("text").attr("x", xx).attr("y", yy).attr("fill", TXT).attr("font-size", 10.5)
    .attr("textLength", len).attr("lengthAdjust", "spacingAndGlyphs").text(t);
}
label(symbolTitle, 7, 14.5, 191);
label(adxTitle, 7, 473, 176);
label(copyright, 7, 594, 269);
</script>
</body></html>
